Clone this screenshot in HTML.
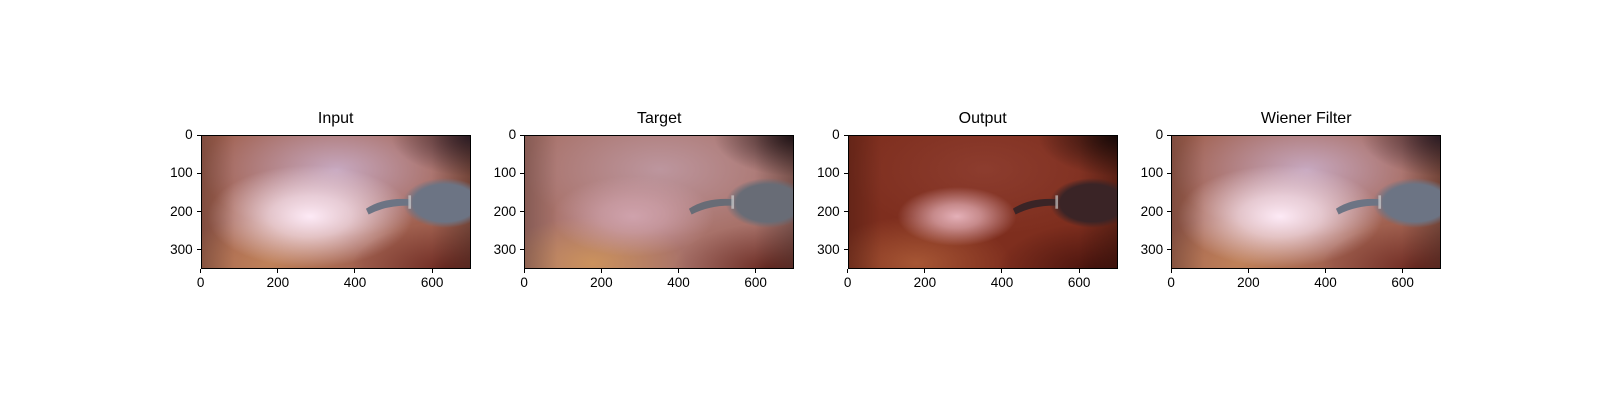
<!DOCTYPE html>
<html><head><meta charset="utf-8"><style>
html,body{margin:0;padding:0;background:#fff;width:1600px;height:400px;overflow:hidden;font-family:"Liberation Sans","DejaVu Sans",sans-serif;}
.title{position:absolute;font-size:16px;color:#000;text-align:center;width:270px;}
.tick{position:absolute;font-size:13.5px;color:#000;}
.ax{position:absolute;width:270px;height:134px;border:1px solid #000;box-sizing:border-box;overflow:hidden;}
.tk{position:absolute;background:#000;}
</style></head><body>
<div id="fig"></div>
<script>
const titles=["Input","Target","Output","Wiener Filter"];
const xTicks=[0,200,400,600];
const yTicks=[0,100,200,300];
const imgW=700, imgH=350;
const lefts=[200.7,524.2,847.7,1171.2];
const top0=135, W=270, H=134;
const palettes={
 Input:{base:"#a0604f",glow:"#fdeaf6",gr:"0.38",haze:"#cbb0cc",corner:"#3a2630",tool:"#6c7484",br:"#6e2a22",bl:"#c88a5c"},
 Target:{base:"#a8726a",glow:"#cfa2ac",gr:"0.3",haze:"#bf9aa4",corner:"#2a1a1e",tool:"#686c76",br:"#6a2a22",bl:"#d49a5a"},
 Output:{base:"#7e2e1e",glow:"#e4b0b8",gr:"0.22",haze:"#8e3e30",corner:"#1e0c0a",tool:"#3a2426",br:"#4a140e",bl:"#b0603a"},
 "Wiener Filter":{base:"#a0604f",glow:"#fdeaf6",gr:"0.38",haze:"#cbb0cc",corner:"#3a2630",tool:"#6c7484",br:"#6e2a22",bl:"#c88a5c"}
};
const fig=document.getElementById('fig');
const sx=W/imgW, sy=H/imgH;
titles.forEach((t,i)=>{
 const L=lefts[i], p=palettes[t], id='p'+i;
 const ti=document.createElement('div');ti.className='title';ti.textContent=t;
 ti.style.left=L+'px';ti.style.top=(top0-25)+'px';
 
 
 fig.appendChild(ti);
 const ax=document.createElement('div');ax.className='ax';ax.style.left=L+'px';ax.style.top=top0+'px';
 
 
 ax.innerHTML=`<svg width="270" height="134" viewBox="0 0 700 350" preserveAspectRatio="none" style="display:block">
 <defs>
 <radialGradient id="g${id}" cx="0.4" cy="0.6" r="${p.gr}"><stop offset="0" stop-color="${p.glow}" stop-opacity="1"/><stop offset="0.4" stop-color="${p.glow}" stop-opacity="0.7"/><stop offset="1" stop-color="${p.glow}" stop-opacity="0"/></radialGradient>
 <radialGradient id="h${id}" cx="0.5" cy="0.25" r="0.5"><stop offset="0" stop-color="${p.haze}" stop-opacity="0.9"/><stop offset="1" stop-color="${p.haze}" stop-opacity="0"/></radialGradient>
 <radialGradient id="c${id}" cx="1" cy="0" r="0.3"><stop offset="0" stop-color="${p.corner}"/><stop offset="1" stop-color="${p.corner}" stop-opacity="0"/></radialGradient>
 <radialGradient id="b${id}" cx="0.9" cy="1" r="0.35"><stop offset="0" stop-color="${p.br}"/><stop offset="1" stop-color="${p.br}" stop-opacity="0"/></radialGradient>
 <radialGradient id="l${id}" cx="0.25" cy="0.95" r="0.35"><stop offset="0" stop-color="${p.bl}" stop-opacity="0.8"/><stop offset="1" stop-color="${p.bl}" stop-opacity="0"/></radialGradient>
 <radialGradient id="t${id}" cx="0.5" cy="0.5" r="0.5"><stop offset="0" stop-color="${p.tool}"/><stop offset="0.75" stop-color="${p.tool}"/><stop offset="1" stop-color="${p.tool}" stop-opacity="0"/></radialGradient>
 <linearGradient id="e${id}" x1="0" x2="1"><stop offset="0" stop-color="#000" stop-opacity="0.2"/><stop offset="0.12" stop-color="#000" stop-opacity="0"/><stop offset="0.85" stop-color="#000" stop-opacity="0"/><stop offset="1" stop-color="#000" stop-opacity="0.3"/></linearGradient>
 </defs>
 <rect width="700" height="350" fill="${p.base}"/>
 <rect width="700" height="350" fill="url(#l${id})"/>
 <rect width="700" height="350" fill="url(#h${id})"/>
 <rect width="700" height="350" fill="url(#g${id})"/>
 <rect width="700" height="350" fill="url(#b${id})"/>
 <rect width="700" height="350" fill="url(#c${id})"/>
 <rect width="700" height="350" fill="url(#e${id})"/>
 <path d="M425 190 Q470 160 540 165 L540 182 Q480 180 432 205 Z" fill="${p.tool}"/>
 <ellipse cx="630" cy="175" rx="110" ry="65" fill="url(#t${id})"/>
 <rect x="535" y="155" width="7" height="35" fill="#ddd" opacity="0.6"/>
 </svg>`;
 fig.appendChild(ax);
 xTicks.forEach(v=>{
  const x=L+v*sx;
  const m=document.createElement('div');m.className='tk';
  m.style.left=(x-0.5)+'px';m.style.top=(top0+H)+'px';m.style.width='1px';m.style.height='4px';
  
  
  fig.appendChild(m);
  const lb=document.createElement('div');lb.className='tick';lb.textContent=v;
  lb.style.left=(x-30)+'px';lb.style.width='60px';lb.style.textAlign='center';lb.style.top=(top0+H+6)+'px';
  
  
  fig.appendChild(lb);
 });
 yTicks.forEach(v=>{
  const y=top0+v*sy;
  const m=document.createElement('div');m.className='tk';
  m.style.left=(L-4)+'px';m.style.top=(y-0.5)+'px';m.style.width='4px';m.style.height='1px';
  
  
  fig.appendChild(m);
  const lb=document.createElement('div');lb.className='tick';lb.textContent=v;
  lb.style.left=(L-68)+'px';lb.style.width='60px';lb.style.textAlign='right';lb.style.top=(y-8)+'px';
  
  
  fig.appendChild(lb);
 });
});
</script>
</body></html>
